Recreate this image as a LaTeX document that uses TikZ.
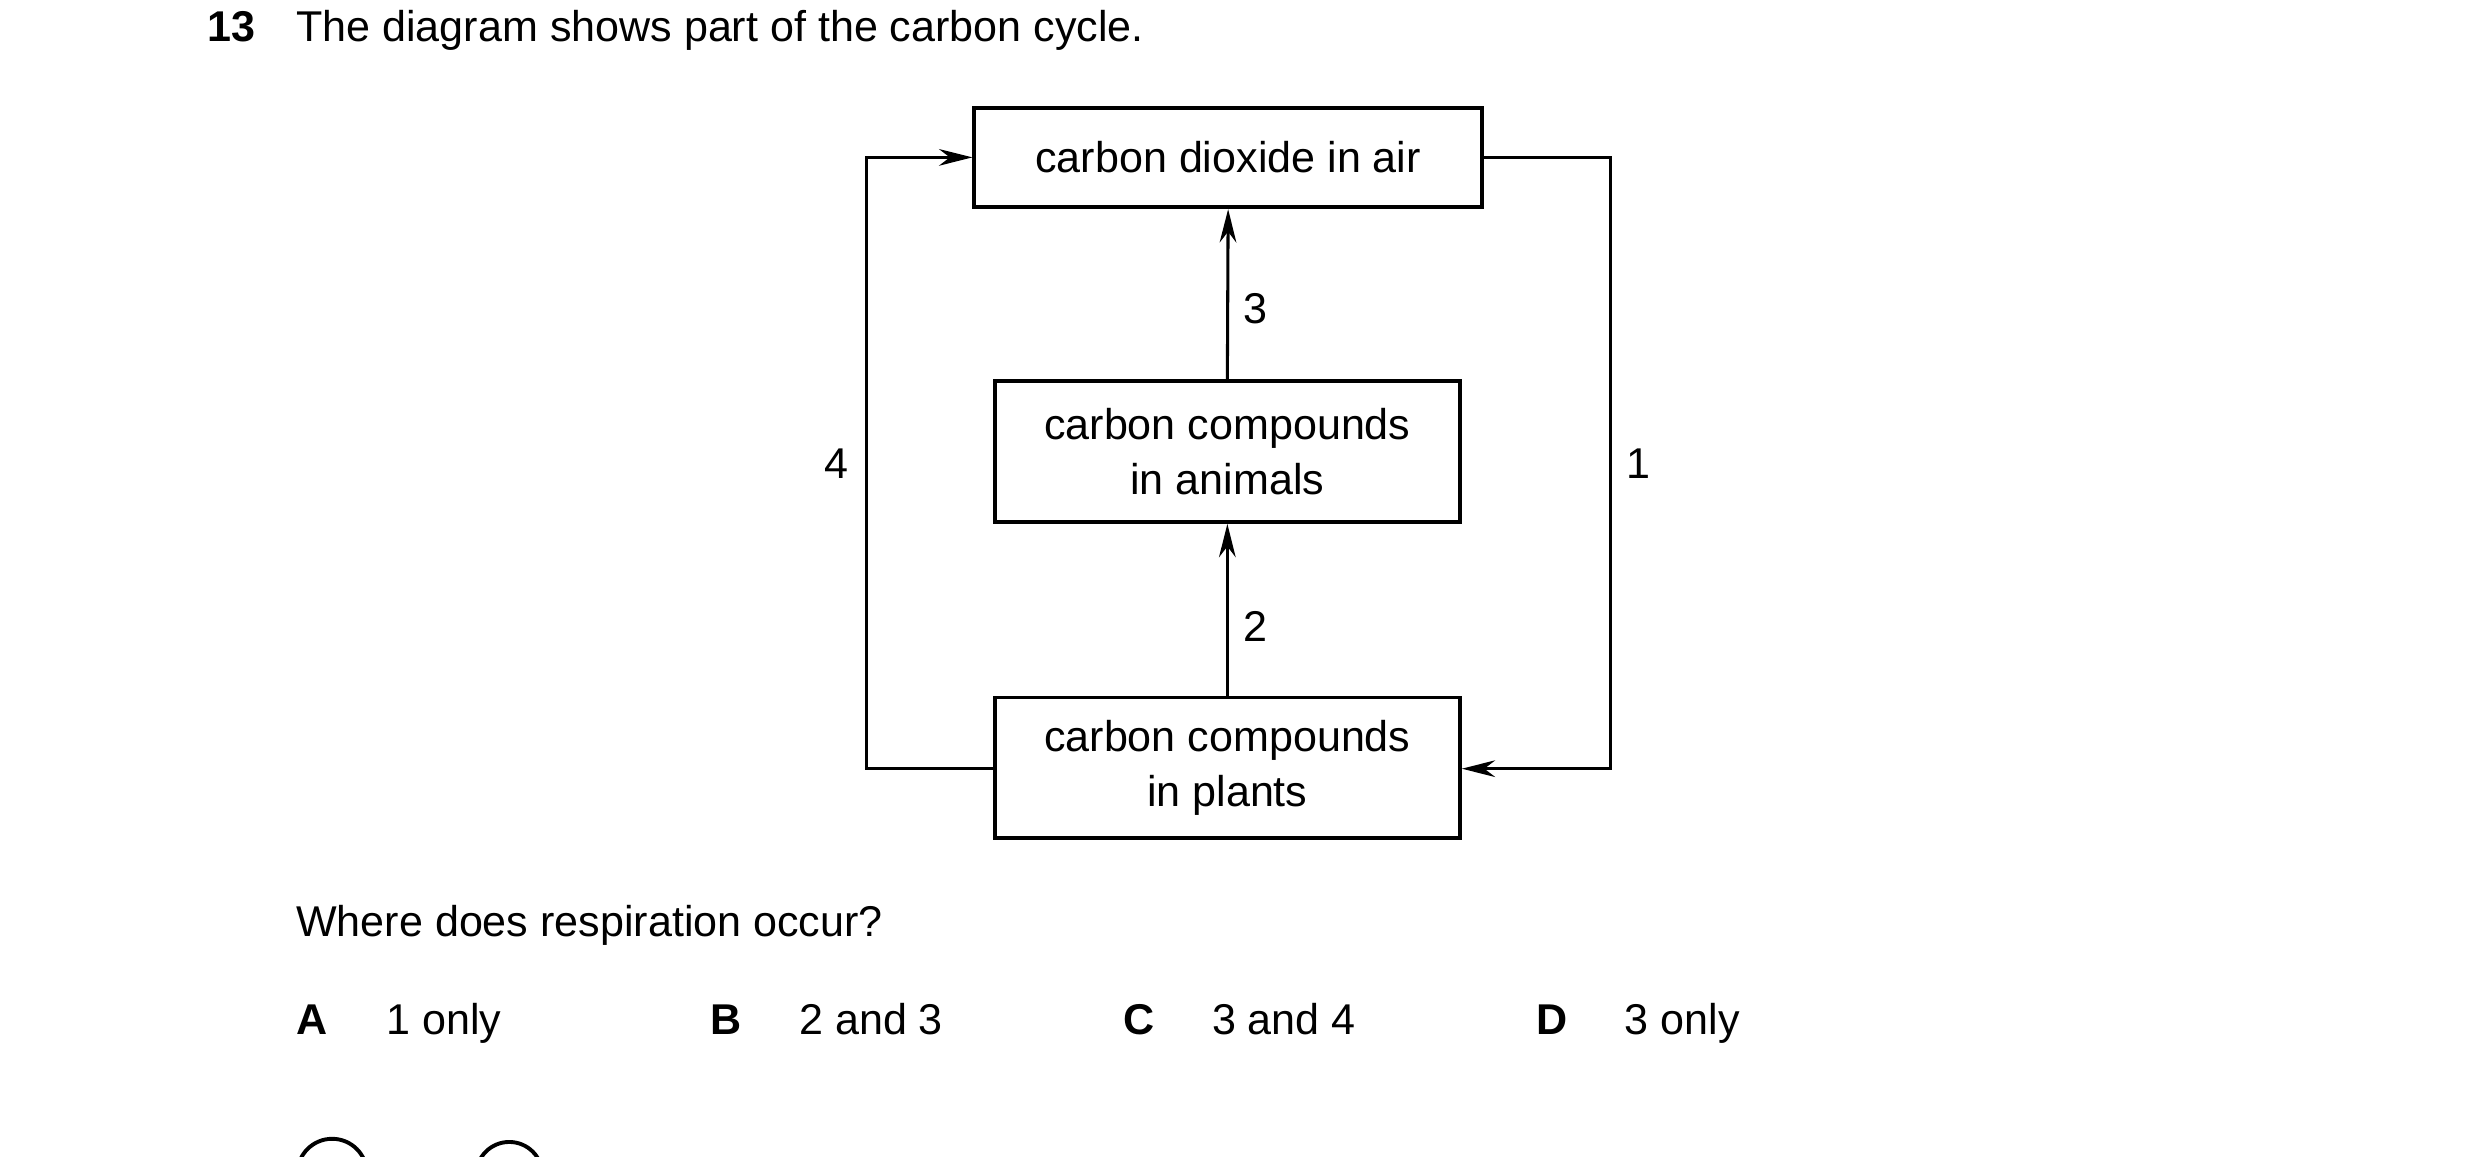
\documentclass[tikz,border=0pt]{standalone}
\usepackage{fontspec}
\setmainfont{Liberation Sans}
\usetikzlibrary{arrows.meta}
\begin{document}
\begin{tikzpicture}[x=0.02cm,y=-0.02cm,
  box/.style={draw,line width=1.4pt,inner sep=0pt,align=center,font=\fontsize{15.5}{19.5}\selectfont},
  ln/.style={line width=1.1pt},
  arr/.style={ln,-{Stealth[length=12pt,width=6pt]}},
  lab/.style={font=\fontsize{15.5}{19}\selectfont,inner sep=0pt},
  txt/.style={font=\fontsize{15.5}{19}\selectfont,inner sep=0pt,anchor=base west}]
\useasboundingbox (0,0) rectangle (1568,731);
\clip (0,0) rectangle (1568,731);
\node[box,minimum width=321*0.02cm,minimum height=63*0.02cm] (air) at (776.5,99.5) {carbon dioxide in air};
\node[box,minimum width=294*0.02cm,minimum height=89*0.02cm] (ani) at (776,285.5) {carbon compounds\\in animals};
\node[box,minimum width=294*0.02cm,minimum height=89*0.02cm] (pla) at (776,485.5) {carbon compounds\\in plants};
\coordinate (lt) at (548,99.5); \coordinate (lb) at (548,486);
\coordinate (rt) at (1018,99.5); \coordinate (rb) at (1018,486);
\draw[arr] (pla.west|-lb) -- (lb) -- (lt) -- (air.west);
\draw[arr] (air.east) -- (rt) -- (rb) -- (pla.east|-rb);
\draw[arr] (ani.north) -- (air.south);
\draw[arr] (pla.north) -- (ani.south);
\node[lab] (n3) at (794,195) {3};
\node[lab] (n2) at (794,396) {2};
\node[lab] (n4) at (529,293) {4};
\node[lab] (n1) at (1036,293) {1};
\node[txt,font=\fontsize{15.5}{19}\selectfont\bfseries] (q) at (131,26) {13};
\node[txt] (t) at (187,26) {The diagram shows part of the carbon cycle.};
\node[txt] (w) at (187,592) {Where does respiration occur?};
\node[txt,font=\fontsize{15.5}{19}\selectfont\bfseries] (A) at (187,654) {A};
\node[txt] (a) at (244,654) {1 only};
\node[txt,font=\fontsize{15.5}{19}\selectfont\bfseries] (B) at (449,654) {B};
\node[txt] (b) at (505,654) {2 and 3};
\node[txt,font=\fontsize{15.5}{19}\selectfont\bfseries] (C) at (710,654) {C};
\node[txt] (c) at (766,654) {3 and 4};
\node[txt,font=\fontsize{15.5}{19}\selectfont\bfseries] (D) at (971,654) {D};
\node[txt] (d) at (1027,654) {3 only};
\draw[line width=1.4pt] (210,742) circle (22);
\draw[line width=1.4pt] (322,743) circle (21);
\end{tikzpicture}
\end{document}
